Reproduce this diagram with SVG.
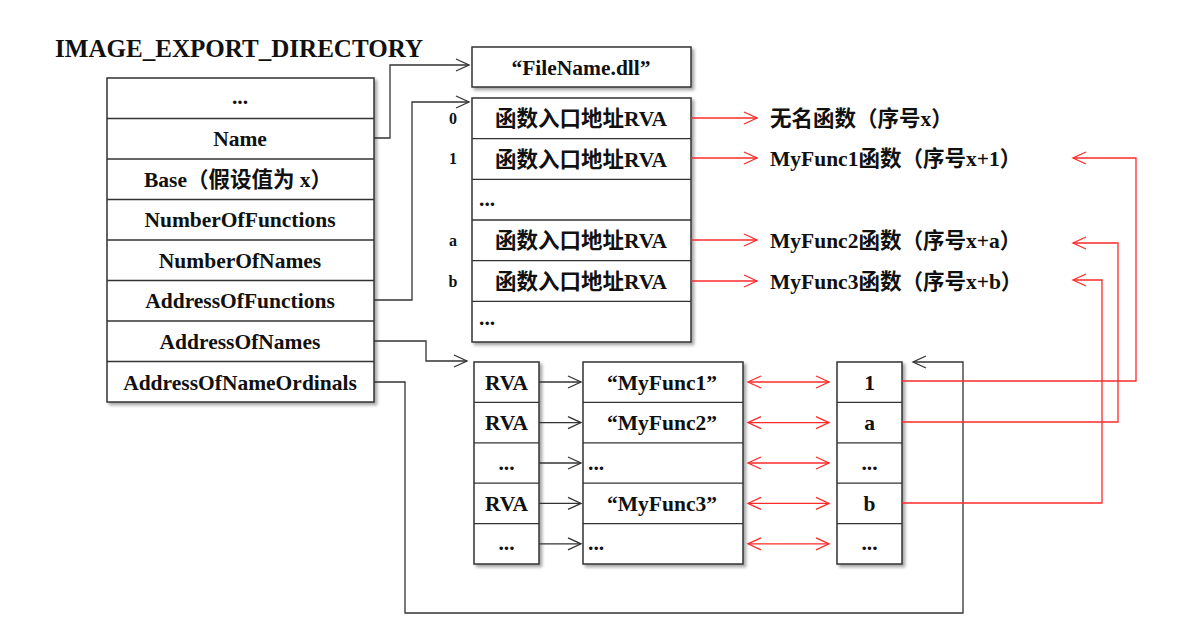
<svg xmlns="http://www.w3.org/2000/svg" width="1204" height="624" viewBox="0 0 1204 624">
<style>
.bg{fill:#fff}
.box{fill:#fff;stroke:#333;stroke-width:1.5}
.t{font-family:"Liberation Serif","Noto Sans CJK SC",serif;font-weight:bold;font-size:21.5px;fill:#111}
.title{font-size:25px}
.c{text-anchor:middle}
.idx{font-family:"Liberation Serif",serif;font-weight:bold;font-size:16px;fill:#111;text-anchor:middle}
.k{stroke:#333;stroke-width:1.3;fill:none}
.r{stroke:#ff2a2a;stroke-width:1.3;fill:none}
</style>
<defs>
<filter id="sh" x="-10%" y="-10%" width="130%" height="130%">
<feDropShadow dx="2.5" dy="2.5" stdDeviation="1.5" flood-color="#000" flood-opacity="0.35"/>
</filter>
<marker id="ak" markerUnits="userSpaceOnUse" markerWidth="16" markerHeight="16" refX="14" refY="7" orient="auto-start-reverse" viewBox="0 0 16 14">
<path d="M1,1 L14,7 L1,13" fill="none" stroke="#333" stroke-width="1.3"/>
</marker>
<marker id="ar" markerUnits="userSpaceOnUse" markerWidth="16" markerHeight="16" refX="14" refY="7" orient="auto-start-reverse" viewBox="0 0 16 14">
<path d="M1,1 L14,7 L1,13" fill="none" stroke="#ff2a2a" stroke-width="1.3"/>
</marker>
</defs>
<rect class="bg" x="0" y="0" width="1204" height="624"/>

<text class="t title" x="55" y="57" textLength="368" lengthAdjust="spacingAndGlyphs">IMAGE_EXPORT_DIRECTORY</text>

<g id="export-directory">
<rect class="box" x="107" y="78" width="267" height="324" filter="url(#sh)"/>
<g class="k">
<line x1="107" y1="118.5" x2="374" y2="118.5"/>
<line x1="107" y1="159" x2="374" y2="159"/>
<line x1="107" y1="199.5" x2="374" y2="199.5"/>
<line x1="107" y1="240" x2="374" y2="240"/>
<line x1="107" y1="280.5" x2="374" y2="280.5"/>
<line x1="107" y1="321" x2="374" y2="321"/>
<line x1="107" y1="361.5" x2="374" y2="361.5"/>
</g>
<text class="t c" x="240" y="104">...</text>
<text class="t c" x="240" y="145.5">Name</text>
<text class="t c" x="238" y="186.5">Base（假设值为 x）</text>
<text class="t c" x="240" y="226.5">NumberOfFunctions</text>
<text class="t c" x="240" y="267.5">NumberOfNames</text>
<text class="t c" x="240" y="307.5">AddressOfFunctions</text>
<text class="t c" x="240" y="348.5">AddressOfNames</text>
<text class="t c" x="240" y="389.5">AddressOfNameOrdinals</text>
</g>

<g id="filename">
<rect class="box" x="472" y="47" width="219" height="40" filter="url(#sh)"/>
<text class="t c" x="581" y="74.5">“FileName.dll”</text>
</g>

<g id="function-table">
<rect class="box" x="472" y="98" width="219" height="244" filter="url(#sh)"/>
<g class="k">
<line x1="472" y1="138.7" x2="691" y2="138.7"/>
<line x1="472" y1="179.3" x2="691" y2="179.3"/>
<line x1="472" y1="220" x2="691" y2="220"/>
<line x1="472" y1="260.7" x2="691" y2="260.7"/>
<line x1="472" y1="301.3" x2="691" y2="301.3"/>
</g>
<text class="t c" x="581" y="125.5">函数入口地址RVA</text>
<text class="t c" x="581" y="166.5">函数入口地址RVA</text>
<text class="t" x="479" y="206">...</text>
<text class="t c" x="581" y="247.5">函数入口地址RVA</text>
<text class="t c" x="581" y="288.5">函数入口地址RVA</text>
<text class="t" x="479" y="325">...</text>
<text class="idx" x="453" y="124">0</text>
<text class="idx" x="453" y="164">1</text>
<text class="idx" x="453" y="246">a</text>
<text class="idx" x="453" y="287">b</text>
</g>

<g id="function-labels">
<text class="t" x="770" y="125.5">无名函数（序号x）</text>
<text class="t" x="770" y="165.5">MyFunc1函数（序号x+1）</text>
<text class="t" x="770" y="247.5">MyFunc2函数（序号x+a）</text>
<text class="t" x="770" y="288.5">MyFunc3函数（序号x+b）</text>
</g>

<g id="names-rva-table">
<rect class="box" x="474" y="362" width="65" height="202" filter="url(#sh)"/>
<g class="k">
<line x1="474" y1="402.4" x2="539" y2="402.4"/>
<line x1="474" y1="442.8" x2="539" y2="442.8"/>
<line x1="474" y1="483.2" x2="539" y2="483.2"/>
<line x1="474" y1="523.6" x2="539" y2="523.6"/>
</g>
<text class="t c" x="506.5" y="389.5">RVA</text>
<text class="t c" x="506.5" y="429.5">RVA</text>
<text class="t c" x="506.5" y="470">...</text>
<text class="t c" x="506.5" y="510.5">RVA</text>
<text class="t c" x="506.5" y="550">...</text>
</g>

<g id="name-strings-table">
<rect class="box" x="583" y="362" width="160" height="202" filter="url(#sh)"/>
<g class="k">
<line x1="583" y1="402.4" x2="743" y2="402.4"/>
<line x1="583" y1="442.8" x2="743" y2="442.8"/>
<line x1="583" y1="483.2" x2="743" y2="483.2"/>
<line x1="583" y1="523.6" x2="743" y2="523.6"/>
</g>
<text class="t c" x="662" y="389.5">“MyFunc1”</text>
<text class="t c" x="662" y="429.5">“MyFunc2”</text>
<text class="t" x="588" y="470">...</text>
<text class="t c" x="662" y="510.5">“MyFunc3”</text>
<text class="t" x="588" y="550">...</text>
</g>

<g id="ordinals-table">
<rect class="box" x="837" y="362" width="65" height="202" filter="url(#sh)"/>
<g class="k">
<line x1="837" y1="402.4" x2="902" y2="402.4"/>
<line x1="837" y1="442.8" x2="902" y2="442.8"/>
<line x1="837" y1="483.2" x2="902" y2="483.2"/>
<line x1="837" y1="523.6" x2="902" y2="523.6"/>
</g>
<text class="t c" x="869.5" y="389.5">1</text>
<text class="t c" x="869.5" y="429.5">a</text>
<text class="t c" x="869.5" y="470">...</text>
<text class="t c" x="869.5" y="510.5">b</text>
<text class="t c" x="869.5" y="550">...</text>
</g>

<g id="connectors">
<polyline class="k" points="374,138 390,138 390,65 469,65" marker-end="url(#ak)"/>
<polyline class="k" points="374,300 412,300 412,102 469,102" marker-end="url(#ak)"/>
<polyline class="k" points="374,341 426,341 426,361 467,361" marker-end="url(#ak)"/>
<polyline class="k" points="374,382 405,382 405,613 963,613 963,362 913,362" marker-end="url(#ak)"/>

<line class="k" x1="539" y1="382" x2="581" y2="382" marker-end="url(#ak)"/>
<line class="k" x1="539" y1="422.6" x2="581" y2="422.6" marker-end="url(#ak)"/>
<line class="k" x1="539" y1="463" x2="581" y2="463" marker-end="url(#ak)"/>
<line class="k" x1="539" y1="503.4" x2="581" y2="503.4" marker-end="url(#ak)"/>
<line class="k" x1="539" y1="543.8" x2="581" y2="543.8" marker-end="url(#ak)"/>

<line class="r" x1="748" y1="382" x2="829" y2="382" marker-start="url(#ar)" marker-end="url(#ar)"/>
<line class="r" x1="748" y1="422.6" x2="829" y2="422.6" marker-start="url(#ar)" marker-end="url(#ar)"/>
<line class="r" x1="748" y1="463" x2="829" y2="463" marker-start="url(#ar)" marker-end="url(#ar)"/>
<line class="r" x1="748" y1="503.4" x2="829" y2="503.4" marker-start="url(#ar)" marker-end="url(#ar)"/>
<line class="r" x1="748" y1="543.8" x2="829" y2="543.8" marker-start="url(#ar)" marker-end="url(#ar)"/>

<line class="r" x1="691" y1="118" x2="757" y2="118" marker-end="url(#ar)"/>
<line class="r" x1="691" y1="158" x2="757" y2="158" marker-end="url(#ar)"/>
<line class="r" x1="691" y1="240" x2="757" y2="240" marker-end="url(#ar)"/>
<line class="r" x1="691" y1="281" x2="757" y2="281" marker-end="url(#ar)"/>

<polyline class="r" points="902,381 1136,381 1136,158 1073,158" marker-end="url(#ar)"/>
<polyline class="r" points="902,422 1118,422 1118,243 1073,243" marker-end="url(#ar)"/>
<polyline class="r" points="902,503 1102,503 1102,280 1073,280" marker-end="url(#ar)"/>
</g>
</svg>
